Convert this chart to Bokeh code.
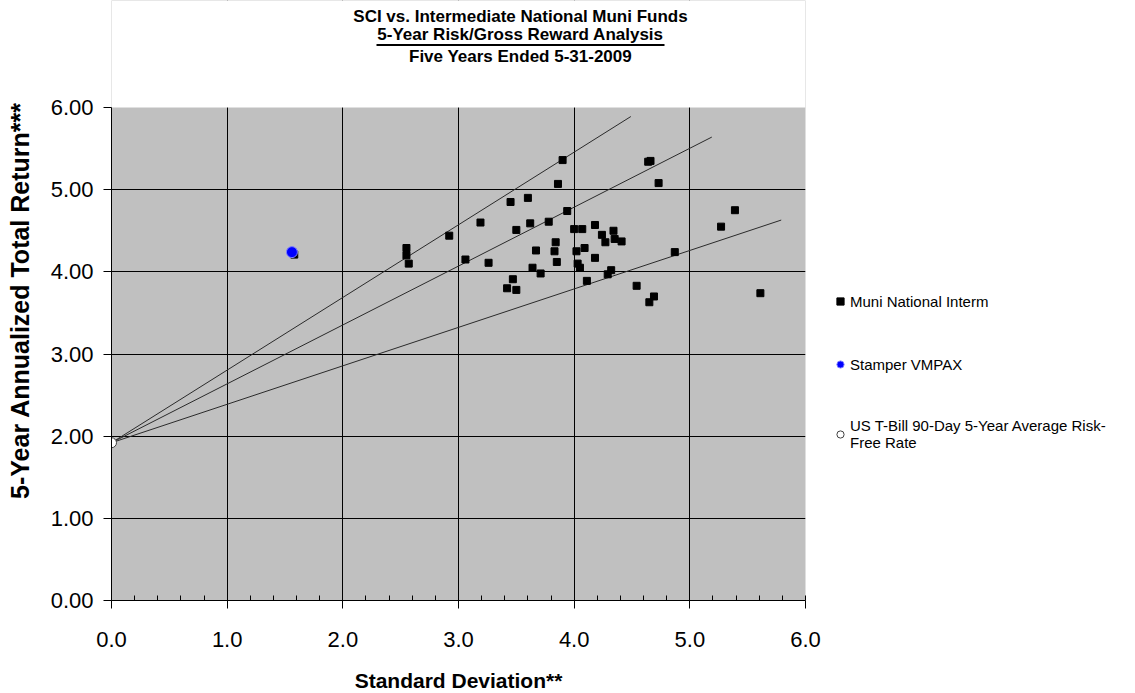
from bokeh.plotting import figure
from bokeh.models import (Legend, LegendItem, FixedTicker, NumeralTickFormatter, Range1d)
from bokeh.embed import file_html
from bokeh.resources import INLINE
from bokeh.core.properties import value

# ---- data ----
muni_sd = [3.90, 3.86, 3.45, 3.60, 3.19, 2.92, 2.55, 2.55, 2.57, 3.06, 3.26,
           3.50, 3.62, 3.78, 3.94, 4.00, 4.07, 4.18, 4.24, 4.27, 4.34, 4.35,
           4.41, 3.84, 3.67, 3.83, 3.85, 4.02, 4.09, 4.18, 4.03, 4.05, 3.64,
           3.71, 3.47, 3.42, 3.50, 4.11, 4.29, 4.32, 4.54, 4.64, 4.66, 4.73,
           5.39, 5.27, 4.87, 4.69, 4.65, 5.61, 1.58]
muni_ret = [5.36, 5.07, 4.85, 4.90, 4.60, 4.44, 4.29, 4.20, 4.10, 4.15, 4.11,
            4.51, 4.59, 4.61, 4.74, 4.52, 4.52, 4.57, 4.45, 4.36, 4.50, 4.40,
            4.37, 4.36, 4.26, 4.25, 4.12, 4.25, 4.29, 4.17, 4.10, 4.05, 4.05,
            3.98, 3.91, 3.80, 3.78, 3.89, 3.97, 4.02, 3.83, 5.34, 5.35, 5.08,
            4.75, 4.55, 4.24, 3.70, 3.63, 3.74, 4.21]
stamper_sd = [1.56]
stamper_ret = [4.24]
rf_sd = [0.0]
rf_ret = [1.92]
# capital market lines from the risk-free point
line_x0 = [0.0, 0.0, 0.0]
line_y0 = [1.92, 1.92, 1.92]
line_x1 = [4.49, 5.19, 5.79]
line_y1 = [5.89, 5.64, 4.63]

x_ticks = [0, 1, 2, 3, 4, 5, 6]
y_ticks = [0, 1, 2, 3, 4, 5, 6]
x_max = 6
y_max = 6

title_lines = ["SCI vs. Intermediate National Muni Funds",
               "5-Year Risk/Gross Reward Analysis",
               "Five Years Ended 5-31-2009"]
legend_labels = ["Muni National Interm", "Stamper VMPAX",
                 "US T-Bill 90-Day 5-Year Average Risk-\nFree Rate"]

FONT = "'Liberation Sans', Arial, sans-serif"
TOTAL_W = 1127
LEFT = 111
FRAME_W = 694
RIGHT = TOTAL_W - LEFT - FRAME_W
PLOT_H = 493                  # height of the 0..6 data area in pixels
FRAME_H = 600                 # frame extends up to hold the title block
Y_TOP = y_max * FRAME_H / PLOT_H


def px_x(px):
    """page pixel x -> data x (for title layout)"""
    return (px - LEFT) * x_max / FRAME_W


def px_y(py):
    """page pixel y -> data y (for title layout)"""
    return (FRAME_H - py) * Y_TOP / FRAME_H


p = figure(frame_width=FRAME_W, frame_height=FRAME_H,
           min_border_left=LEFT, min_border_top=0,
           min_border_right=RIGHT, min_border_bottom=85,
           x_range=Range1d(0, x_max), y_range=Range1d(0, Y_TOP),
           output_backend="svg", toolbar_location=None,
           background_fill_color="#C0C0C0", border_fill_color="white",
           outline_line_color=None)

p.xgrid.ticker = FixedTicker(ticks=x_ticks)
p.ygrid.ticker = FixedTicker(ticks=y_ticks[:-1])
for g in (p.xgrid, p.ygrid):
    g.grid_line_color = "black"
    g.grid_line_width = 1
    g.grid_line_alpha = 1.0

xa = p.xaxis[0]
xa.ticker = FixedTicker(ticks=x_ticks, minor_ticks=[i / 5 for i in range(31)])
xa.formatter = NumeralTickFormatter(format="0.0")
xa.major_tick_out = 8
xa.major_tick_in = 0
xa.minor_tick_in = 5
xa.minor_tick_out = 0
xa.major_label_standoff = 23
xa.axis_label = "Standard Deviation**"
xa.axis_label_standoff = 19

ya = p.yaxis[0]
ya.ticker = FixedTicker(ticks=y_ticks)
ya.bounds = (0, y_max)
ya.formatter = NumeralTickFormatter(format="0.00")
ya.major_tick_out = 8
ya.major_tick_in = 0
ya.minor_tick_in = 0
ya.minor_tick_out = 0
ya.major_label_standoff = 10
ya.axis_label = "5-Year Annualized Total Return***"
ya.axis_label_standoff = 14

for ax in (xa, ya):
    ax.axis_line_color = "black"
    ax.major_tick_line_color = "black"
    ax.minor_tick_line_color = "black"
    ax.major_label_text_font = FONT
    ax.major_label_text_font_size = "22px"
    ax.major_label_text_color = "black"
    ax.axis_label_text_font = FONT
    ax.axis_label_text_font_style = "bold"
    ax.axis_label_text_color = "black"
xa.axis_label_text_font_size = "21px"
ya.axis_label_text_font_size = "25px"

# white band above the 0..6 plot area that carries the title
p.quad(left=[0], right=[x_max], bottom=[y_max], top=[Y_TOP],
       fill_color="white", line_color=None)

p.segment(x0=line_x0, y0=line_y0, x1=line_x1, y1=line_y1,
          line_color="#2a2a2a", line_width=1)

r_muni = p.scatter(muni_sd, muni_ret, marker="square", size=7,
                   fill_color="black", line_color="black")
r_stamp = p.scatter(stamper_sd, stamper_ret, marker="circle", size=11,
                    fill_color="#0000FF", line_color="#8080FF", line_width=1)
r_rf = p.scatter(rf_sd, rf_ret, marker="circle", size=10,
                 fill_color="white", line_color="#404040", line_width=1)

# title
tx = px_x(520)
p.text(x=[tx, tx, tx], y=[px_y(15.5), px_y(34), px_y(56)], text=title_lines,
       text_font=value(FONT), text_font_size="17px", text_font_style="bold",
       text_align="center", text_baseline="middle", text_color="black")
p.segment(x0=[px_x(376)], y0=[px_y(44.5)], x1=[px_x(664)], y1=[px_y(44.5)],
          line_color="black", line_width=2)

legend = Legend(items=[LegendItem(label=legend_labels[0], renderers=[r_muni]),
                       LegendItem(label=legend_labels[1], renderers=[r_stamp]),
                       LegendItem(label=legend_labels[2], renderers=[r_rf])],
                location=(26, 149), orientation="vertical",
                glyph_width=18, glyph_height=18, label_standoff=1,
                label_height=20, spacing=43, padding=0, margin=0,
                border_line_color=None, background_fill_alpha=0,
                label_text_font=FONT, label_text_font_size="15px",
                label_text_color="black", label_text_line_height=1.25)
p.add_layout(legend, "right")

open("out.html", "w").write(file_html(p, INLINE))
